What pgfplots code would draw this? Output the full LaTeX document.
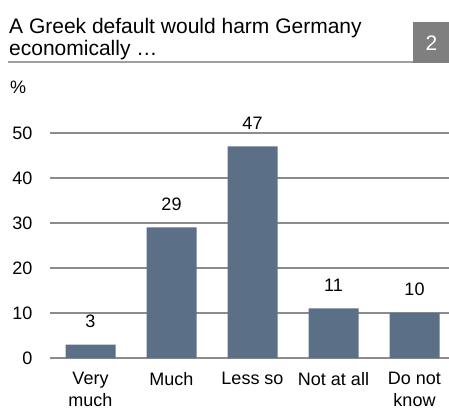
\documentclass[border=0pt]{standalone}
\usepackage{fontspec}
\setmainfont{Liberation Sans}
\usepackage{pgfplots}
\pgfplotsset{compat=1.18}
\definecolor{barcol}{HTML}{5B7086}
\definecolor{gridcol}{HTML}{8C8C8C}
\definecolor{boxcol}{HTML}{7F7F7F}
\definecolor{rulecol}{HTML}{A0A0A0}
\begin{document}
\begin{tikzpicture}[x=1pt,y=1pt]
\useasboundingbox (0pt,0pt) rectangle (449pt,412pt);
\node[anchor=base west, inner sep=0, font=\fontsize{21}{24}\selectfont] at (9pt,378pt) {A Greek default would harm Germany};
\node[anchor=base west, inner sep=0, font=\fontsize{21}{24}\selectfont] at (9pt,356pt) {economically …};
\fill[boxcol] (413pt,348.7pt) rectangle (449pt,390.3pt);
\node[white, font=\fontsize{21}{24}\selectfont] at (431.5pt,369pt) {2};
\draw[rulecol, line width=2pt] (8pt,349.5pt) -- (413pt,349.5pt);
\node[anchor=base west, inner sep=0, font=\fontsize{18}{22}\selectfont] at (10pt,318pt) {\%};
\begin{axis}[
  at={(50pt,54pt)}, anchor=south west,
  scale only axis, width=399pt, height=225pt,
  xmin=-0.5, xmax=4.426, ymin=0, ymax=50,
  ytick={0,10,20,30,40,50},
  xtick={0,1,2,3,4},
  xticklabels={Very\\much, Much, Less so, Not at all, Do not\\know},
  axis line style={draw=none},
  major tick length=0pt,
  ymajorgrids, grid style={gridcol, line width=1.2pt},
  tick label style={font=\fontsize{18}{22}\selectfont},
  xticklabel style={align=center, yshift=-11pt},
  yticklabel style={xshift=-14pt},
  /pgf/number format/assume math mode=true,
  clip=false,
]
\addplot[ybar, bar width=50pt, fill=barcol, draw=none,
  nodes near coords,
  every node near coord/.append style={font=\fontsize{18}{22}\selectfont, black, yshift=13.5pt}]
  coordinates {(0,3) (1,29) (2,47) (3,11) (4,10)};
\end{axis}
\end{tikzpicture}
\end{document}
